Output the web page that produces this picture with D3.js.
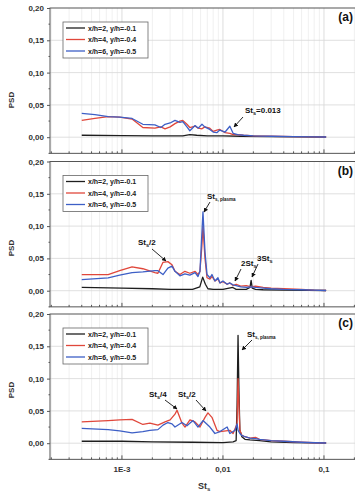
<!DOCTYPE html>
<html><head><meta charset="utf-8">
<script src="https://cdn.jsdelivr.net/npm/d3@7"></script>
<style>
html,body{margin:0;padding:0;background:#fff;}
svg{display:block;font-family:"Liberation Sans",Arial,sans-serif;}
</style></head>
<body><svg id="c" width="355" height="496"></svg>
<script>
// ---------- DATA ----------
const seriesNames = ["x/h=2, y/h=-0.1", "x/h=4, y/h=-0.4", "x/h=6, y/h=-0.5"];
const panelLabels = ["(a)", "(b)", "(c)"];
const xTickValues = [1e-3, 0.01, 0.1];
const xTickLabels = ["1E-3", "0,01", "0,1"];
const yTickValues = [0, 0.05, 0.10, 0.15, 0.20];
const yTickLabels = ["0,00", "0,05", "0,10", "0,15", "0,20"];

// Panel (a)
const aBlackX = [4.0e-4, 1e-3, 2e-3, 4e-3, 4.7e-3, 5.5e-3, 7e-3, 0.01, 0.015, 0.03, 0.06, 0.105];
const aBlackY = [0.003, 0.0025, 0.0022, 0.002, 0.004, 0.003, 0.002, 0.002, 0.0015, 0.001, 0.0005, 0.0003];
const aRedX = [4.0e-4, 5.4e-4, 7.3e-4, 9.5e-4, 1.26e-3, 1.61e-3, 2.12e-3, 2.43e-3, 2.67e-3, 3.0e-3, 3.35e-3, 3.75e-3, 4.0e-3, 4.4e-3, 4.7e-3, 5.3e-3, 5.7e-3, 6.2e-3, 6.6e-3, 7.4e-3, 8.0e-3, 8.7e-3, 9.3e-3, 0.0105, 0.0117, 0.0126, 0.014, 0.016, 0.02, 0.03, 0.05, 0.08, 0.105];
const aRedY = [0.026, 0.029, 0.032, 0.031, 0.028, 0.015, 0.014, 0.016, 0.013, 0.016, 0.021, 0.025, 0.026, 0.020, 0.015, 0.017, 0.014, 0.013, 0.016, 0.014, 0.009, 0.011, 0.012, 0.007, 0.006, 0.004, 0.004, 0.003, 0.002, 0.0015, 0.001, 0.0005, 0.0003];
const aBlueX = aRedX;
const aBlueY = [0.037, 0.035, 0.032, 0.031, 0.029, 0.020, 0.019, 0.015, 0.020, 0.022, 0.026, 0.023, 0.024, 0.016, 0.010, 0.018, 0.014, 0.020, 0.016, 0.012, 0.008, 0.007, 0.011, 0.008, 0.017, 0.006, 0.004, 0.003, 0.002, 0.0015, 0.001, 0.0005, 0.0003];

// Panel (b)
const bBlackX = [4e-4, 1e-3, 2e-3, 3e-3, 5e-3, 5.9e-3, 6.3e-3, 6.7e-3, 7.1e-3, 8e-3, 0.01, 0.0125, 0.0135, 0.017, 0.0185, 0.019, 0.0195, 0.021, 0.025, 0.04, 0.07, 0.105];
const bBlackY = [0.005, 0.004, 0.003, 0.002, 0.002, 0.006, 0.021, 0.010, 0.003, 0.002, 0.002, 0.005, 0.002, 0.002, 0.005, 0.016, 0.004, 0.002, 0.0015, 0.001, 0.0005, 0.0003];
const bRedX = [4e-4, 7.3e-4, 9.5e-4, 1.26e-3, 1.61e-3, 2.12e-3, 2.27e-3, 2.55e-3, 2.85e-3, 3.13e-3, 3.35e-3, 3.75e-3, 4.2e-3, 4.7e-3, 5.3e-3, 5.66e-3, 5.92e-3, 6.19e-3, 6.34e-3, 6.64e-3, 6.95e-3, 7.43e-3, 7.78e-3, 8.33e-3, 8.92e-3, 9.34e-3, 0.01, 0.011, 0.0117, 0.0126, 0.0135, 0.015, 0.017, 0.019, 0.021, 0.025, 0.03, 0.04, 0.06, 0.08, 0.105];
const bRedY = [0.025, 0.025, 0.031, 0.037, 0.034, 0.028, 0.027, 0.044, 0.045, 0.040, 0.030, 0.025, 0.030, 0.027, 0.030, 0.025, 0.030, 0.070, 0.100, 0.050, 0.020, 0.018, 0.022, 0.015, 0.018, 0.012, 0.014, 0.010, 0.012, 0.008, 0.010, 0.007, 0.008, 0.006, 0.007, 0.005, 0.004, 0.003, 0.002, 0.0008, 0.0003];
const bBlueX = bRedX;
const bBlueY = [0.017, 0.020, 0.024, 0.028, 0.029, 0.031, 0.031, 0.025, 0.035, 0.038, 0.030, 0.023, 0.026, 0.024, 0.028, 0.022, 0.030, 0.090, 0.122, 0.060, 0.025, 0.020, 0.025, 0.015, 0.020, 0.012, 0.015, 0.010, 0.012, 0.009, 0.008, 0.006, 0.005, 0.006, 0.005, 0.004, 0.003, 0.002, 0.0015, 0.0008, 0.0003];

// Panel (c)
const cBlackX = [4e-4, 1e-3, 2e-3, 5e-3, 0.01, 0.0126, 0.0135, 0.0138, 0.0141, 0.0144, 0.0147, 0.0154, 0.0165, 0.0185, 0.023, 0.03, 0.05, 0.08, 0.105];
const cBlackY = [0.003, 0.003, 0.002, 0.0015, 0.001, 0.002, 0.004, 0.060, 0.167, 0.080, 0.020, 0.010, 0.006, 0.005, 0.004, 0.002, 0.001, 0.0005, 0.0003];
const cRedX = [4e-4, 7.3e-4, 9.5e-4, 1.26e-3, 1.61e-3, 1.89e-3, 2.27e-3, 2.67e-3, 3.0e-3, 3.35e-3, 3.51e-3, 3.93e-3, 4.21e-3, 4.71e-3, 5.28e-3, 5.92e-3, 6.64e-3, 7.1e-3, 7.78e-3, 8.73e-3, 9.34e-3, 0.0117, 0.0126, 0.0138, 0.0141, 0.0144, 0.0147, 0.0154, 0.0165, 0.0185, 0.021, 0.023, 0.03, 0.04, 0.06, 0.08, 0.105];
const cRedY = [0.033, 0.035, 0.036, 0.037, 0.029, 0.031, 0.028, 0.033, 0.036, 0.045, 0.051, 0.031, 0.025, 0.036, 0.033, 0.025, 0.040, 0.047, 0.040, 0.020, 0.018, 0.020, 0.015, 0.030, 0.100, 0.060, 0.020, 0.012, 0.010, 0.008, 0.009, 0.006, 0.004, 0.003, 0.0015, 0.0007, 0.0003];
const cBlueX = [4e-4, 7.3e-4, 9.5e-4, 1.26e-3, 1.61e-3, 1.89e-3, 2.27e-3, 2.55e-3, 2.85e-3, 3.13e-3, 3.35e-3, 3.93e-3, 4.4e-3, 5.05e-3, 5.66e-3, 6.34e-3, 7.43e-3, 8.33e-3, 9.34e-3, 0.011, 0.0117, 0.0132, 0.0138, 0.0141, 0.0147, 0.0154, 0.0165, 0.0185, 0.021, 0.023, 0.03, 0.04, 0.06, 0.08, 0.105];
const cBlueY = [0.023, 0.021, 0.019, 0.016, 0.018, 0.020, 0.021, 0.028, 0.032, 0.030, 0.025, 0.032, 0.027, 0.035, 0.025, 0.035, 0.025, 0.015, 0.018, 0.025, 0.015, 0.020, 0.030, 0.020, 0.015, 0.012, 0.010, 0.008, 0.007, 0.006, 0.004, 0.003, 0.0015, 0.0007, 0.0003];

// ---------- SETUP ----------
const colors = ["#1e1e1e", "#e0473b", "#3d5fc6"];
const svg = d3.select("#c");
const x = d3.scaleLog().domain([1.94e-4, 0.2075]).range([50, 356]);
const panelTops = [8, 161.5, 314];
const panelH = 0.225 * 646;
const zip = (xs, ys) => xs.map((v, i) => [v, ys[i]]);
const panels = [
  { series: [zip(aBlackX, aBlackY), zip(aRedX, aRedY), zip(aBlueX, aBlueY)] },
  { series: [zip(bBlackX, bBlackY), zip(bRedX, bRedY), zip(bBlueX, bBlueY)] },
  { series: [zip(cBlackX, cBlackY), zip(cRedX, cRedY), zip(cBlueX, cBlueY)] }
];
const psdY = [100, 248, 390];

svg.append("defs").append("marker").attr("id", "arr")
  .attr("viewBox", "0 0 10 10").attr("refX", 9).attr("refY", 5)
  .attr("markerWidth", 5).attr("markerHeight", 5).attr("orient", "auto")
  .append("path").attr("d", "M0,0 L10,5 L0,10 z").attr("fill", "#111");

const minorX = [];
for (let e = -4; e <= -1; e++) for (let m = 1; m <= 9; m++) {
  const v = m * Math.pow(10, e);
  if (v >= 1.94e-4 && v <= 0.2075) minorX.push(v);
}

panels.forEach((p, pi) => {
  const top = panelTops[pi];
  const y = d3.scaleLinear().domain([-0.025, 0.2]).range([top + panelH, top]);
  const g = svg.append("g");
  const bottom = top + panelH;

  // grid
  g.selectAll(".vg").data(minorX).enter().append("line")
    .attr("x1", d => x(d)).attr("x2", d => x(d)).attr("y1", top).attr("y2", bottom)
    .attr("stroke", d => xTickValues.includes(d) ? "#d4d4d4" : "#ececec").attr("stroke-width", 0.8);
  g.selectAll(".hg").data(yTickValues.slice(0, 4)).enter().append("line")
    .attr("x1", 50).attr("x2", 356).attr("y1", d => y(d)).attr("y2", d => y(d))
    .attr("stroke", "#d8d8d8").attr("stroke-width", 0.8);

  // frame
  g.append("rect").attr("x", 50).attr("y", top).attr("width", 306).attr("height", panelH)
    .attr("fill", "none").attr("stroke", "#555").attr("stroke-width", 1);

  // y axis
  const ya = d3.axisLeft(y).tickValues(yTickValues).tickSize(3).tickPadding(3)
    .tickFormat((d, i) => yTickLabels[i]);
  const yag = g.append("g").attr("transform", "translate(50,0)").call(ya);
  yag.select(".domain").remove();
  yag.selectAll("line").attr("stroke", "#555");
  yag.selectAll("text").attr("font-size", 8).attr("font-weight", "bold").attr("fill", "#333");
  const yMinor = [-0.025, 0.025, 0.075, 0.125, 0.175];
  g.selectAll(".ym").data(yMinor).enter().append("line")
    .attr("x1", 48.5).attr("x2", 50).attr("y1", d => y(d)).attr("y2", d => y(d))
    .attr("stroke", "#555");

  // x axis ticks (inward)
  g.selectAll(".xt").data(minorX).enter().append("line")
    .attr("x1", d => x(d)).attr("x2", d => x(d))
    .attr("y1", bottom).attr("y2", d => bottom - (xTickValues.includes(d) ? 4 : 2))
    .attr("stroke", "#555");
  if (pi === 2) {
    g.selectAll(".xl").data(xTickValues).enter().append("text")
      .attr("x", d => x(d)).attr("y", bottom + 13).attr("text-anchor", "middle")
      .attr("font-size", 8).attr("font-weight", "bold").attr("fill", "#333")
      .text((d, i) => xTickLabels[i]);
  }

  // lines
  const line = d3.line().x(d => x(d[0])).y(d => y(d[1]));
  p.series.forEach((s, si) => {
    g.append("path").datum(s).attr("d", line).attr("fill", "none")
      .attr("stroke", colors[si]).attr("stroke-width", 1.3).attr("stroke-linejoin", "round");
  });

  // legend
  const lt = top + 14;
  g.append("rect").attr("x", 63).attr("y", lt).attr("width", 85).attr("height", 36)
    .attr("fill", "#fff").attr("stroke", "#666").attr("stroke-width", 0.8);
  seriesNames.forEach((n, si) => {
    const ry = lt + 6 + si * 11.5;
    g.append("line").attr("x1", 66).attr("x2", 85).attr("y1", ry).attr("y2", ry)
      .attr("stroke", colors[si]).attr("stroke-width", 1.3);
    g.append("text").attr("x", 88).attr("y", ry + 2.5).attr("font-size", 7)
      .attr("font-weight", "bold").attr("fill", "#222").text(n);
  });

  // PSD label
  g.append("text").attr("transform", `translate(14,${psdY[pi]}) rotate(-90)`)
    .attr("text-anchor", "middle").attr("font-size", 8).attr("font-weight", "bold")
    .attr("fill", "#333").text("PSD");

  // panel label
  g.append("text").attr("x", 353).attr("y", top + 13).attr("text-anchor", "end")
    .attr("font-size", 12).attr("font-weight", "bold").attr("fill", "#111").text(panelLabels[pi]);
});

// annotations
function ann(tx, ty, main, sub, rest, x1, y1, x2, y2, subSize) {
  const t = svg.append("text").attr("x", tx).attr("y", ty).attr("font-size", 8)
    .attr("font-weight", "bold").attr("fill", "#111");
  t.append("tspan").text(main);
  if (sub) t.append("tspan").attr("font-size", subSize || 5.5).attr("dy", 2).text(sub);
  if (rest) t.append("tspan").attr("dy", sub ? -2 : 0).text(rest);
  svg.append("line").attr("x1", x1).attr("y1", y1).attr("x2", x2).attr("y2", y2)
    .attr("stroke", "#111").attr("stroke-width", 0.9).attr("marker-end", "url(#arr)");
}
ann(245, 113, "St", "s", "=0.013", 243, 117, 234, 127);
ann(207, 199, "St", "s, plasma", null, 210, 202, 204, 212, 4.5);
ann(138, 245, "St", "s", "/2", 152, 249, 166, 261);
ann(241, 266, "2St", "s", null, 241, 269, 235, 281);
ann(257, 261, "3St", "s", null, 258, 264, 252, 277);
ann(247, 337, "St", "s, plasma", null, 252, 340, 242, 350, 4.5);
ann(149, 397, "St", "s", "/4", 165, 400, 177, 409);
ann(178, 397, "St", "s", "/2", 196, 400, 206, 411);

// x label
const xl = svg.append("text").attr("x", 198).attr("y", 489).attr("font-size", 9)
  .attr("font-weight", "bold").attr("fill", "#333");
xl.append("tspan").text("St");
xl.append("tspan").attr("font-size", 6).attr("dy", 2).text("s");
</script></body></html>
